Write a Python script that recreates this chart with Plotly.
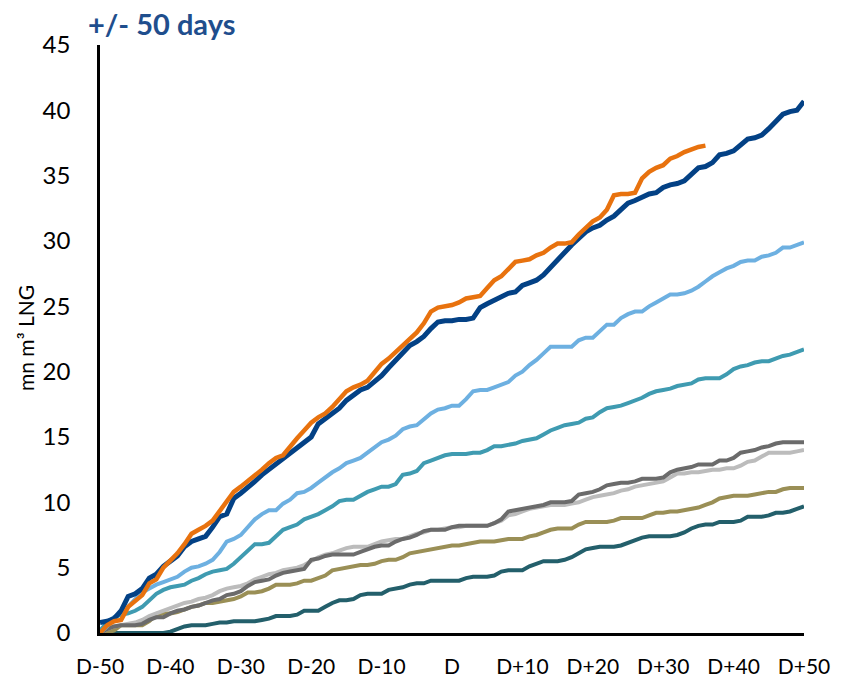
import plotly.graph_objects as go

days = list(range(-50, 51))
tick_vals = [-50, -40, -30, -20, -10, 0, 10, 20, 30, 40, 50]
tick_text = ["D-50", "D-40", "D-30", "D-20", "D-10", "D", "D+10", "D+20", "D+30", "D+40", "D+50"]

navy = [0.8, 0.9, 1.1, 1.7, 2.8, 3.0, 3.4, 4.2, 4.5, 5.1, 5.5, 5.9, 6.6, 7.0, 7.2, 7.4, 8.1, 8.9, 9.1, 10.3,
        10.7, 11.1, 11.6, 12.1, 12.5, 12.9, 13.4, 13.8, 14.1, 14.5, 15.0, 16.0, 16.4, 16.7, 17.2, 17.8, 18.2, 18.6, 18.8, 19.2,
        19.7, 20.3, 20.9, 21.5, 22.0, 22.3, 22.7, 23.3, 23.8, 23.9, 23.9, 24.0, 24.0, 24.1, 24.9, 25.2, 25.5, 25.7, 26.0, 26.1,
        26.6, 26.8, 27.0, 27.4, 28.0, 28.6, 29.2, 29.7, 30.2, 30.7, 31.0, 31.2, 31.6, 31.9, 32.4, 32.9, 33.1, 33.4, 33.6, 33.7,
        34.1, 34.3, 34.4, 34.6, 35.1, 35.6, 35.7, 36.0, 36.6, 36.7, 36.9, 37.4, 37.8, 37.9, 38.1, 38.6, 39.2, 39.7, 39.9, 40.0,
        40.7]

orange = [0.0, 0.6, 0.9, 1.0, 2.0, 2.4, 2.9, 3.8, 4.1, 5.0, 5.5, 6.1, 6.8, 7.6, 7.9, 8.2, 8.6, 9.3, 10.1, 10.8,
          11.2, 11.6, 12.0, 12.5, 13.0, 13.4, 13.6, 14.3, 14.9, 15.5, 16.1, 16.5, 16.8, 17.3, 17.9, 18.5, 18.8, 19.0, 19.3, 19.9,
          20.6, 21.0, 21.5, 22.0, 22.6, 23.0, 23.7, 24.6, 24.9, 25.0, 25.1, 25.3, 25.6, 25.7, 25.8, 26.4, 27.0, 27.3, 27.8, 28.4,
          28.5, 28.6, 28.9, 29.1, 29.5, 29.8, 29.8, 29.9, 30.5, 31.0, 31.5, 31.8, 32.4, 33.5, 33.6, 33.6, 33.7, 34.8, 35.3, 35.6,
          35.8, 36.3, 36.5, 36.8, 37.0, 37.2, 37.3] + [None] * 14

light_blue = [0.0, 0.5, 1.2, 1.6, 2.0, 2.6, 3.1, 3.4, 3.7, 3.9, 4.1, 4.3, 4.7, 5.0, 5.1, 5.3, 5.6, 6.2, 7.0, 7.2,
              7.5, 8.1, 8.7, 9.1, 9.4, 9.4, 9.9, 10.2, 10.7, 10.8, 11.1, 11.5, 11.9, 12.3, 12.6, 13.0, 13.2, 13.4, 13.8, 14.2,
              14.6, 14.8, 15.1, 15.6, 15.8, 15.9, 16.4, 16.8, 17.1, 17.2, 17.4, 17.4, 17.9, 18.5, 18.6, 18.6, 18.8, 19.0, 19.2, 19.7,
              20.0, 20.5, 20.9, 21.4, 21.9, 21.9, 21.9, 21.9, 22.4, 22.6, 22.6, 23.1, 23.6, 23.6, 24.1, 24.4, 24.6, 24.6, 25.0, 25.3,
              25.6, 25.9, 25.9, 26.0, 26.2, 26.5, 26.9, 27.3, 27.6, 27.9, 28.1, 28.4, 28.5, 28.5, 28.8, 28.9, 29.1, 29.5, 29.5, 29.7,
              29.9]

teal = [0.2, 0.8, 1.2, 1.4, 1.5, 1.7, 2.0, 2.5, 3.0, 3.3, 3.5, 3.6, 3.7, 4.0, 4.2, 4.5, 4.7, 4.8, 4.9, 5.3,
        5.8, 6.3, 6.8, 6.8, 6.9, 7.4, 7.9, 8.1, 8.3, 8.7, 8.9, 9.1, 9.4, 9.7, 10.1, 10.2, 10.2, 10.5, 10.8, 11.0,
        11.2, 11.2, 11.4, 12.1, 12.2, 12.4, 13.0, 13.2, 13.4, 13.6, 13.7, 13.7, 13.7, 13.8, 13.8, 14.0, 14.3, 14.3, 14.4, 14.5,
        14.7, 14.8, 14.9, 15.2, 15.5, 15.7, 15.9, 16.0, 16.1, 16.4, 16.5, 16.9, 17.2, 17.3, 17.4, 17.6, 17.8, 18.0, 18.3, 18.5,
        18.6, 18.7, 18.9, 19.0, 19.1, 19.4, 19.5, 19.5, 19.5, 19.8, 20.2, 20.4, 20.5, 20.7, 20.8, 20.8, 21.0, 21.2, 21.3, 21.5,
        21.7]

dark_gray = [0.0, 0.3, 0.5, 0.6, 0.6, 0.6, 0.7, 1.0, 1.2, 1.2, 1.5, 1.7, 1.8, 2.0, 2.1, 2.3, 2.5, 2.6, 2.9, 3.0,
             3.2, 3.6, 3.9, 4.0, 4.1, 4.4, 4.6, 4.7, 4.8, 4.9, 5.6, 5.7, 5.9, 6.0, 6.0, 6.0, 6.0, 6.2, 6.4, 6.6,
             6.7, 6.7, 7.0, 7.2, 7.3, 7.5, 7.8, 7.9, 7.9, 7.9, 8.1, 8.2, 8.2, 8.2, 8.2, 8.2, 8.4, 8.7, 9.3, 9.4,
             9.5, 9.6, 9.7, 9.8, 10.0, 10.0, 10.0, 10.1, 10.6, 10.7, 10.8, 11.0, 11.3, 11.4, 11.5, 11.5, 11.6, 11.8, 11.8, 11.8,
             11.9, 12.3, 12.5, 12.6, 12.7, 12.9, 12.9, 12.9, 13.2, 13.2, 13.4, 13.8, 13.9, 14.0, 14.2, 14.3, 14.5, 14.6, 14.6, 14.6,
             14.6]

light_gray = [0.0, 0.3, 0.5, 0.6, 0.7, 0.8, 1.0, 1.3, 1.5, 1.7, 1.9, 2.1, 2.3, 2.4, 2.6, 2.7, 2.9, 3.2, 3.4, 3.5,
              3.6, 3.8, 4.1, 4.3, 4.5, 4.6, 4.8, 4.9, 5.0, 5.2, 5.5, 5.8, 6.0, 6.1, 6.3, 6.5, 6.6, 6.6, 6.6, 6.8,
              7.0, 7.1, 7.2, 7.2, 7.4, 7.6, 7.7, 7.9, 7.9, 8.0, 8.1, 8.1, 8.2, 8.2, 8.2, 8.2, 8.4, 8.6, 9.0, 9.1,
              9.3, 9.5, 9.6, 9.7, 9.8, 9.8, 9.8, 9.9, 10.0, 10.2, 10.4, 10.5, 10.6, 10.7, 10.9, 11.0, 11.2, 11.3, 11.4, 11.5,
              11.6, 11.9, 12.2, 12.2, 12.3, 12.3, 12.4, 12.5, 12.5, 12.6, 12.6, 12.8, 13.1, 13.2, 13.5, 13.8, 13.8, 13.8, 13.8, 13.9,
              14.0]

olive = [0.0, 0.0, 0.2, 0.6, 0.6, 0.6, 0.6, 0.9, 1.4, 1.5, 1.5, 1.6, 1.8, 2.0, 2.1, 2.3, 2.3, 2.4, 2.5, 2.6,
         2.8, 3.1, 3.1, 3.2, 3.4, 3.7, 3.7, 3.7, 3.8, 4.0, 4.0, 4.2, 4.4, 4.8, 4.9, 5.0, 5.1, 5.2, 5.2, 5.3,
         5.5, 5.6, 5.6, 5.8, 6.1, 6.2, 6.3, 6.4, 6.5, 6.6, 6.7, 6.7, 6.8, 6.9, 7.0, 7.0, 7.0, 7.1, 7.2, 7.2,
         7.2, 7.4, 7.5, 7.7, 7.9, 8.0, 8.0, 8.0, 8.3, 8.5, 8.5, 8.5, 8.5, 8.6, 8.8, 8.8, 8.8, 8.8, 9.0, 9.2,
         9.2, 9.3, 9.3, 9.4, 9.5, 9.6, 9.8, 10.0, 10.3, 10.4, 10.5, 10.5, 10.5, 10.6, 10.7, 10.8, 10.8, 11.0, 11.1, 11.1,
         11.1]

dark_teal = [0.0, 0.0, 0.0, 0.0, 0.0, 0.0, 0.0, 0.0, 0.0, 0.0, 0.1, 0.3, 0.5, 0.6, 0.6, 0.6, 0.7, 0.8, 0.8, 0.9,
             0.9, 0.9, 0.9, 1.0, 1.1, 1.3, 1.3, 1.3, 1.4, 1.7, 1.7, 1.7, 2.0, 2.3, 2.5, 2.5, 2.6, 2.9, 3.0, 3.0,
             3.0, 3.3, 3.4, 3.5, 3.7, 3.8, 3.8, 4.0, 4.0, 4.0, 4.0, 4.0, 4.2, 4.3, 4.3, 4.3, 4.4, 4.7, 4.8, 4.8,
             4.8, 5.1, 5.3, 5.5, 5.5, 5.5, 5.6, 5.8, 6.1, 6.4, 6.5, 6.6, 6.6, 6.6, 6.7, 6.9, 7.1, 7.3, 7.4, 7.4,
             7.4, 7.4, 7.5, 7.7, 8.0, 8.2, 8.3, 8.3, 8.5, 8.5, 8.5, 8.6, 8.9, 8.9, 8.9, 9.0, 9.2, 9.2, 9.3, 9.5,
             9.7]

series = [
    ("dark_teal", dark_teal, "#235f6b", 4),
    ("olive", olive, "#9a8f56", 4),
    ("light_gray", light_gray, "#bcbcbc", 4),
    ("dark_gray", dark_gray, "#6b6b6b", 4),
    ("teal", teal, "#3f9bb1", 4),
    ("light_blue", light_blue, "#6db0e1", 4),
    ("navy", navy, "#034185", 5),
    ("orange", orange, "#e8720e", 4.5),
]

fig = go.Figure()
for name, vals, color, w in series:
    fig.add_trace(go.Scatter(x=days, y=vals, mode="lines", name=name,
                             line=dict(color=color, width=w),
                             connectgaps=False, showlegend=False))

font_family = "Lato, 'Open Sans', sans-serif"

# page body has an 8px default margin; figure sized/offset to compensate
W, H = 833, 673
fig.update_layout(
    width=W, height=H,
    margin=dict(l=92, r=37, t=37, b=48, autoexpand=False),
    paper_bgcolor="white", plot_bgcolor="white",
    font=dict(family=font_family, color="black"),
    title=dict(text="<b>+/- 50 days</b>", x=80 / W, xanchor="left",
               y=1 - 17 / H, yanchor="middle",
               font=dict(size=29, color="#1f4e8d", family=font_family)),
    xaxis=dict(range=[-50, 50], tickmode="array", tickvals=tick_vals, ticktext=tick_text,
               showgrid=False, zeroline=False, showline=True, linecolor="black", linewidth=2.5,
               ticks="", tickfont=dict(size=21, color="black"), ticklabelstandoff=13,
               automargin=False),
    yaxis=dict(range=[0, 45], tickmode="array", tickvals=[0, 5, 10, 15, 20, 25, 30, 35, 40, 45],
               showgrid=False, zeroline=False, showline=True, linecolor="black", linewidth=2.5,
               ticks="", tickfont=dict(size=24, color="black"), ticklabelstandoff=22,
               automargin=False),
    annotations=[dict(text="mn m³ LNG", xref="paper", yref="paper",
                      x=(25 - 100) / 704, y=(633 - 338) / 588, textangle=-90, showarrow=False,
                      xanchor="center", yanchor="middle",
                      font=dict(size=21, color="black", family=font_family))],
)

fig.write_html("out.html")
